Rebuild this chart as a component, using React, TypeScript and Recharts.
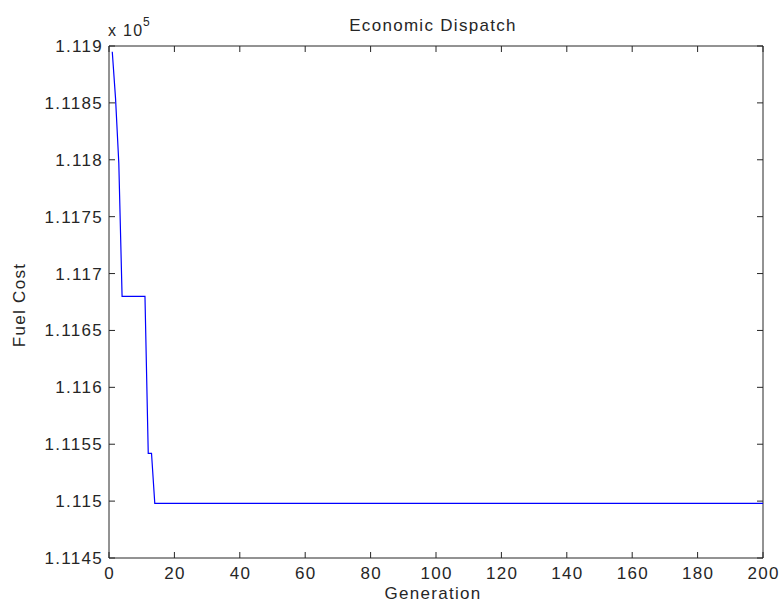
import { LineChart, Line, XAxis, YAxis, ReferenceLine, Label } from "recharts";

// values (cost in raw units, axis shows x 10^5)
const generation = [1, 2, 3, 4, 11, 12, 13, 14, 200];
const fuelCost = [111895, 111854, 111797, 111680, 111680, 111542, 111542, 111498, 111498];

const xTicks = [0, 20, 40, 60, 80, 100, 120, 140, 160, 180, 200];
const yTicks = [111450, 111500, 111550, 111600, 111650, 111700, 111750, 111800, 111850, 111900];
const yTickLabels = ["1.1145", "1.115", "1.1155", "1.116", "1.1165", "1.117", "1.1175", "1.118", "1.1185", "1.119"];

const data = generation.map((g, i) => ({ generation: g, cost: fuelCost[i] }));

const W = 782;
const H = 607;
const LEFT = 109;
const TOP = 46;
const RIGHT = 19;
const BOTTOM = 49;
const PLOT_W = W - LEFT - RIGHT;
const PLOT_H = H - TOP - BOTTOM;

const FONT = "'Liberation Sans', Arial, sans-serif";
const TEXT = "#262626";
const AXIS = "#262626";
const TICK = 6;
const FS = 17;
const LS = 1.3;

function XTick(props: any) {
  const { x, y, payload } = props;
  return (
    <g>
      <line x1={x} x2={x} y1={y} y2={y - TICK} stroke={AXIS} />
      <line x1={x} x2={x} y1={y - PLOT_H} y2={y - PLOT_H + TICK} stroke={AXIS} />
      <text x={x + LS / 2} y={y + 21} textAnchor="middle" fill={TEXT} fontSize={FS} fontFamily={FONT} letterSpacing={LS}>
        {payload.value}
      </text>
    </g>
  );
}

function YTick(props: any) {
  const { x, y, payload } = props;
  const idx = yTicks.indexOf(payload.value);
  return (
    <g>
      <line x1={x} x2={x + TICK} y1={y} y2={y} stroke={AXIS} />
      <line x1={x + PLOT_W} x2={x + PLOT_W - TICK} y1={y} y2={y} stroke={AXIS} />
      <text x={x - 6} y={y + 6} textAnchor="end" fill={TEXT} fontSize={FS} fontFamily={FONT} letterSpacing={LS}>
        {yTickLabels[idx]}
      </text>
    </g>
  );
}

export default function App() {
  return (
    <div style={{ position: "absolute", left: 0, top: 0, width: W, height: H, background: "#fff" }}>
      <LineChart width={W} height={H} data={data} margin={{ top: TOP, right: RIGHT, bottom: 0, left: 0 }}>
        <XAxis
          dataKey="generation"
          type="number"
          domain={[0, 200]}
          ticks={xTicks}
          height={BOTTOM}
          tickSize={0}
          tickMargin={0}
          tickLine={false}
          stroke={AXIS}
          tick={<XTick />}
          interval={0}
        >
          <Label
            content={() => (
              <text x={433} y={599} textAnchor="middle" fill={TEXT} fontSize={FS} fontFamily={FONT} letterSpacing={LS}>
                Generation
              </text>
            )}
          />
        </XAxis>
        <YAxis
          type="number"
          domain={[111450, 111900]}
          ticks={yTicks}
          width={LEFT}
          tickSize={0}
          tickMargin={0}
          tickLine={false}
          stroke={AXIS}
          tick={<YTick />}
          interval={0}
        >
          <Label
            content={() => (
              <text
                x={25}
                y={305}
                transform="rotate(-90 25 305)"
                textAnchor="middle"
                fill={TEXT}
                fontSize={FS}
                fontFamily={FONT}
                letterSpacing={LS}
              >
                Fuel Cost
              </text>
            )}
          />
        </YAxis>
        <ReferenceLine y={111900} stroke={AXIS} />
        <ReferenceLine x={200} stroke={AXIS} />
        <Line
          type="linear"
          dataKey="cost"
          stroke="#0000ff"
          strokeWidth={1.2}
          dot={false}
          isAnimationActive={false}
        />
      </LineChart>
      <svg width={W} height={H} style={{ position: "absolute", left: 0, top: 0, pointerEvents: "none" }}>
        <text x={433} y={31} textAnchor="middle" fill={TEXT} fontSize={FS} fontFamily={FONT} letterSpacing={LS}>
          Economic Dispatch
        </text>
        <text x={108} y={36} fill={TEXT} fontSize={16} fontFamily={FONT} letterSpacing={LS}>
          x 10
        </text>
        <text x={143} y={26} fill={TEXT} fontSize={12} fontFamily={FONT}>
          5
        </text>
      </svg>
    </div>
  );
}
